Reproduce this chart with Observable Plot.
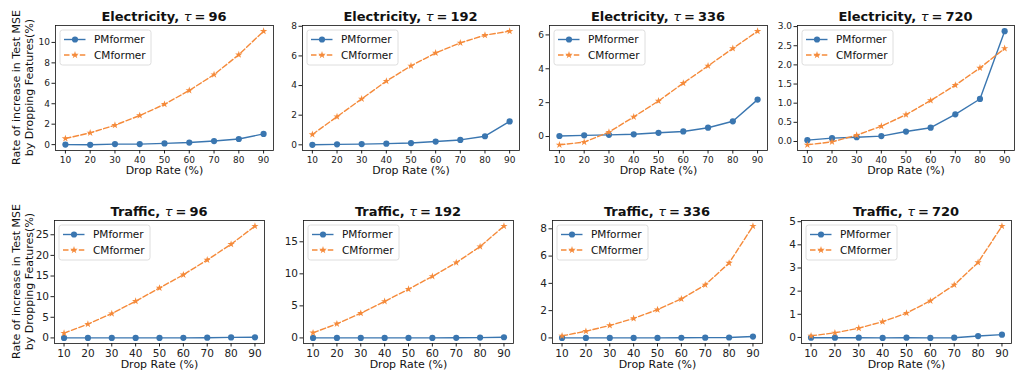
<!DOCTYPE html>
<html><head><meta charset="utf-8">
<script src="https://cdn.jsdelivr.net/npm/d3@7"></script>
<script src="https://cdn.jsdelivr.net/npm/@observablehq/plot@0.6"></script>
<style>
html,body{margin:0;padding:0;background:#fff;}
#chart{position:relative;width:1015px;height:379px;overflow:hidden;font-family:"DejaVu Sans",sans-serif;background:#fff;}
#chart svg{position:absolute;overflow:visible;}
</style></head><body><div id="chart"></div>
<script>
// ---------- data ----------
const dropRates = [10, 20, 30, 40, 50, 60, 70, 80, 90];
const seriesNames = ["PMformer", "CMformer"];
const datasets = ["Electricity", "Electricity", "Electricity", "Electricity", "Traffic", "Traffic", "Traffic", "Traffic"];
const taus = [96, 192, 336, 720, 96, 192, 336, 720];
const xLabel = "Drop Rate (%)";
const yLabelLines = ["Rate of increase in Test MSE", "by Dropping Features(%)"];

const elec96PM  = [0.0, -0.02, 0.05, 0.05, 0.12, 0.2, 0.35, 0.55, 1.05];
const elec96CM  = [0.6, 1.15, 1.9, 2.85, 3.95, 5.3, 6.85, 8.8, 11.1];
const elec192PM = [0.0, 0.03, 0.05, 0.08, 0.12, 0.22, 0.33, 0.58, 1.58];
const elec192CM = [0.7, 1.9, 3.1, 4.3, 5.33, 6.2, 6.88, 7.4, 7.67];
const elec336PM = [0.03, 0.07, 0.1, 0.13, 0.22, 0.3, 0.52, 0.9, 2.18];
const elec336CM = [-0.49, -0.33, 0.26, 1.16, 2.1, 3.15, 4.17, 5.2, 6.22];
const elec720PM = [0.035, 0.087, 0.11, 0.14, 0.26, 0.36, 0.71, 1.11, 2.88];
const elec720CM = [-0.087, -0.01, 0.165, 0.4, 0.7, 1.07, 1.47, 1.92, 2.43];
const traf96PM  = [0.0, 0.0, 0.0, 0.0, 0.0, 0.02, 0.05, 0.12, 0.15];
const traf96CM  = [1.15, 3.35, 5.9, 8.9, 12.1, 15.3, 18.9, 22.7, 27.1];
const traf192PM = [0.0, 0.0, 0.0, 0.0, 0.0, 0.0, 0.02, 0.05, 0.1];
const traf192CM = [0.8, 2.2, 3.85, 5.7, 7.6, 9.6, 11.75, 14.25, 17.45];
const traf336PM = [0.0, 0.0, 0.0, 0.0, 0.0, 0.01, 0.02, 0.03, 0.1];
const traf336CM = [0.15, 0.49, 0.91, 1.43, 2.07, 2.86, 3.89, 5.49, 8.2];
const traf720PM = [-0.01, -0.01, -0.01, -0.02, -0.01, -0.02, -0.01, 0.06, 0.12];
const traf720CM = [0.07, 0.2, 0.4, 0.68, 1.05, 1.58, 2.27, 3.24, 4.81];

const xTicks = [10, 20, 30, 40, 50, 60, 70, 80, 90];
const yTicksElec96  = [0, 2, 4, 6, 8, 10];
const yTicksElec192 = [0, 2, 4, 6, 8];
const yTicksElec336 = [0, 2, 4, 6];
const yTicksElec720 = [0, 0.5, 1.0, 1.5, 2.0, 2.5, 3.0];
const yTicksTraf96  = [0, 5, 10, 15, 20, 25];
const yTicksTraf192 = [0, 5, 10, 15];
const yTicksTraf336 = [0, 2, 4, 6, 8];
const yTicksTraf720 = [0, 1, 2, 3, 4, 5];

const pmSeries = [elec96PM, elec192PM, elec336PM, elec720PM, traf96PM, traf192PM, traf336PM, traf720PM];
const cmSeries = [elec96CM, elec192CM, elec336CM, elec720CM, traf96CM, traf192CM, traf336CM, traf720CM];
const yTickSets = [yTicksElec96, yTicksElec192, yTicksElec336, yTicksElec720, yTicksTraf96, yTicksTraf192, yTicksTraf336, yTicksTraf720];

// ---------- layout / style ----------
const BLUE = "#3a76b0";
const ORANGE = "#f58a3a";
const frames = [
  [55, 25, 273, 150], [302, 25, 519, 150], [549, 25, 767, 150], [797, 25, 1014, 150],
  [54, 220, 264, 343], [303, 220, 513, 343], [552, 220, 762, 343], [801, 220, 1011, 343]
];
const chart = document.getElementById("chart");

frames.forEach((fr, i) => {
  const [fl, ft, frr, fb] = fr;
  const col = i % 4, row = Math.floor(i / 4);
  const mL = col === 0 ? fl : 32;
  const mT = row === 0 ? ft : 28;
  const mR = 1, mB = 36;
  const W = frr - fl, H = fb - ft;
  const tickFont = row === 0 ? 9 : 10.5;

  const rows = [];
  dropRates.forEach((d, k) => {
    rows.push({x: d, y: pmSeries[i][k], s: seriesNames[0]});
    rows.push({x: d, y: cmSeries[i][k], s: seriesNames[1]});
  });
  const all = pmSeries[i].concat(cmSeries[i]);
  const lo = d3.min(all), hi = d3.max(all), pad = (hi - lo) * 0.05;
  const yt = yTickSets[i];
  const fmt = i === 3 ? d3.format(".1f") : d3.format("d");

  const pm = rows.filter(r => r.s === seriesNames[0]);
  const cm = rows.filter(r => r.s === seriesNames[1]);

  const svg = Plot.plot({
    width: W + mL + mR,
    height: H + mT + mB,
    marginLeft: mL, marginRight: mR, marginTop: mT, marginBottom: mB,
    style: {fontFamily: "DejaVu Sans", fontSize: tickFont + "px", color: "#222", background: "transparent", overflow: "visible"},
    x: {domain: [6, 94]},
    y: {domain: [lo - pad, hi + pad]},
    marks: [
      Plot.axisX({ticks: xTicks, tickSize: 3.5, tickPadding: 3, label: null, fontSize: tickFont, stroke: "#222"}),
      Plot.axisY({ticks: yt, tickSize: 3.5, tickPadding: 2, label: null, tickFormat: fmt, fontSize: tickFont, stroke: "#222"}),
      Plot.line(pm, {x: "x", y: "y", stroke: BLUE, strokeWidth: 1.4}),
      Plot.dot(pm, {x: "x", y: "y", fill: BLUE, r: 3.1, symbol: "circle"}),
      Plot.line(cm, {x: "x", y: "y", stroke: ORANGE, strokeWidth: 1.4, strokeDasharray: "5.5,2.4"}),
      Plot.dot(cm, {x: "x", y: "y", fill: ORANGE, r: 2.3, symbol: "star"}),
      Plot.frame({stroke: "#111", strokeWidth: 0.8}),
      Plot.text([xLabel], {frameAnchor: "bottom", dy: row === 0 ? 23 : 24.5, text: d => d, fontSize: 11, fill: "#111"})
    ]
  });
  svg.style.left = (fl - mL) + "px";
  svg.style.top = (ft - mT) + "px";
  chart.appendChild(svg);

  const s = d3.select(svg);
  // title
  const t = s.append("text")
    .attr("x", mL + W / 2).attr("y", mT - 4)
    .attr("text-anchor", "middle")
    .attr("font-family", "DejaVu Sans").attr("font-size", 13).attr("fill", "#111");
  t.append("tspan").attr("font-weight", "bold").text(datasets[i] + ", ");
  t.append("tspan").attr("font-style", "italic").text("τ");
  t.append("tspan").attr("font-weight", "bold").attr("dx", 3).text("=");
  t.append("tspan").attr("font-weight", "bold").attr("dx", 3).text(taus[i]);

  // legend
  const lg = s.append("g").attr("transform", `translate(${mL + 5},${mT + 5})`);
  lg.append("rect").attr("width", 91).attr("height", 35).attr("rx", 2.5)
    .attr("fill", "white").attr("fill-opacity", 0.8).attr("stroke", "#d5d5d5").attr("stroke-width", 0.8);
  [[BLUE, null, d3.symbolCircle, 30], [ORANGE, "5.5,2.4", d3.symbolStar, 17]].forEach((cfg, k) => {
    const yy = 9.5 + k * 15.5;
    lg.append("line").attr("x1", 4).attr("x2", 25.5).attr("y1", yy).attr("y2", yy)
      .attr("stroke", cfg[0]).attr("stroke-width", 1.4).attr("stroke-dasharray", cfg[1]);
    lg.append("path").attr("d", d3.symbol(cfg[2], cfg[3])()).attr("transform", `translate(15,${yy})`).attr("fill", cfg[0]);
    lg.append("text").attr("x", 34).attr("y", yy).attr("dy", "0.36em")
      .attr("text-anchor", "start")
      .attr("font-family", "DejaVu Sans").attr("font-size", 10.5).attr("fill", "#111").text(seriesNames[k]);
  });

  // y label on first column
  if (col === 0) {
    const cy = mT + H / 2;
    yLabelLines.forEach((txt, k) => {
      s.append("text").attr("transform", `translate(${16 + k * 13},${cy}) rotate(-90)`)
        .attr("text-anchor", "middle").attr("dy", "0.35em")
        .attr("font-family", "DejaVu Sans").attr("font-size", 11).attr("fill", "#111").text(txt);
    });
  }
});
</script></body></html>
